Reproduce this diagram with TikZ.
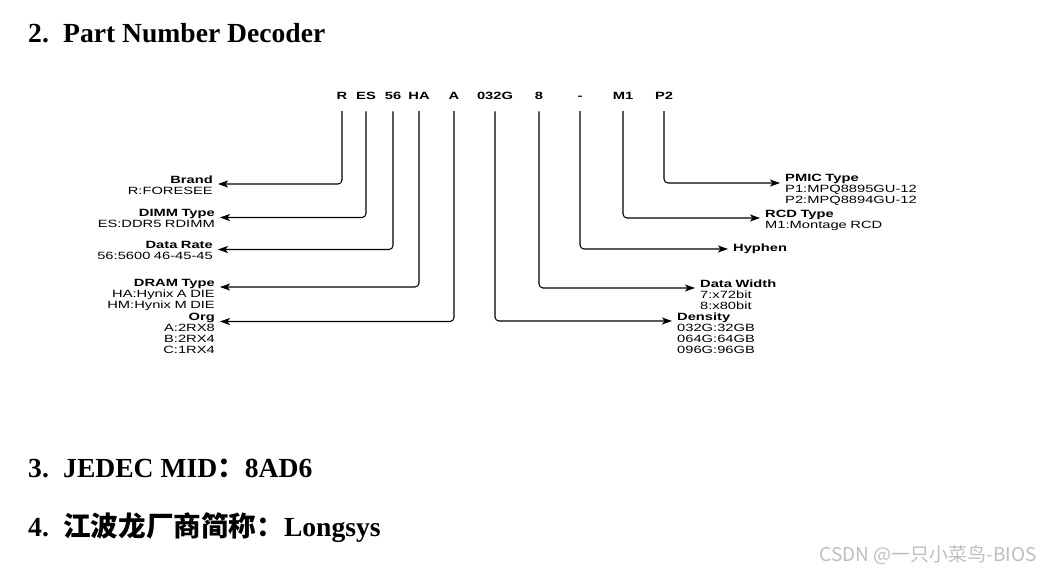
\documentclass[tikz,border=0pt]{standalone}
\usepackage{fontspec}
\setmainfont{Liberation Serif}
\newfontfamily\diagfont[FakeStretch=1.4]{Liberation Sans}
\newfontfamily\cjkfont{Noto Sans CJK SC}
\usetikzlibrary{arrows.meta}
\definecolor{markgray}{RGB}{190,190,190}
\tikzset{
  headtext/.style={font=\bfseries\fontsize{27.6}{30}\selectfont,anchor=base west,inner sep=0pt},
  codetext/.style={font=\diagfont\bfseries\fontsize{10.5}{11}\selectfont,anchor=base,inner sep=0pt},
  leftlabel/.style={font=\diagfont\fontsize{10.5}{11}\selectfont,text width=130pt,align=right,anchor=base east,inner xsep=5pt,inner ysep=0pt},
  rightlabel/.style={font=\diagfont\fontsize{10.5}{11}\selectfont,text width=140pt,align=left,anchor=base west,inner xsep=5pt,inner ysep=0pt},
  decode/.style={-{Stealth[length=10pt,width=7pt,inset=2.5pt]},line width=1.05pt,rounded corners=4pt,shorten <=12pt}
}
\begin{document}
\begin{tikzpicture}[x=1pt,y=-1pt]
  \useasboundingbox (0,0) rectangle (1041,573);

  % headings
  \node[headtext] (num2) at (28,42) {2.};
  \node[headtext] (head2) at (63,42) {Part Number Decoder};
  \node[headtext] (num3) at (28,477) {3.};
  \node[headtext] (head3) at (63,477) {JEDEC MID{\cjkfont ：}8AD6};
  \node[headtext] (num4) at (28,536) {4.};
  \node[headtext] (head4) at (63,536) {{\cjkfont 江波龙厂商简称：}Longsys};

  % part number fields
  \node[codetext] (pnR) at (342,99) {R};
  \node[codetext] (pnES) at (366,99) {ES};
  \node[codetext] (pnRate) at (393,99) {56};
  \node[codetext] (pnHA) at (419,99) {HA};
  \node[codetext] (pnA) at (454,99) {A};
  \node[codetext] (pnDen) at (495,99) {032G};
  \node[codetext] (pnW) at (539,99) {8};
  \node[codetext] (pnDash) at (580,99) {-};
  \node[codetext] (pnM) at (623,99) {M1};
  \node[codetext] (pnP) at (664,99) {P2};

  % left side
  \node[leftlabel] (brand) at (218,183) {\textbf{Brand}\\R:FORESEE};
  \node[leftlabel] (dimm) at (220,216.5) {\textbf{DIMM Type}\\ES:DDR5 RDIMM};
  \node[leftlabel] (rate) at (218,248.5) {\textbf{Data Rate}\\56:5600 46-45-45};
  \node[leftlabel] (dram) at (220,286) {\textbf{DRAM Type}\\HA:Hynix A DIE\\HM:Hynix M DIE};
  \node[leftlabel] (org) at (220,320.5) {\textbf{Org}\\A:2RX8\\B:2RX4\\C:1RX4};

  % right side
  \node[rightlabel] (pmic) at (780,181) {\textbf{PMIC Type}\\P1:MPQ8895GU-12\\P2:MPQ8894GU-12};
  \node[rightlabel] (rcd) at (760,217) {\textbf{RCD Type}\\M1:Montage RCD};
  \node[rightlabel,text width=60pt,anchor=west] (hyphen) at (728,249) {\textbf{Hyphen}};
  \node[rightlabel] (width) at (695,287) {\textbf{Data Width}\\7:x72bit\\8:x80bit};
  \node[rightlabel] (density) at (672,320) {\textbf{Density}\\032G:32GB\\064G:64GB\\096G:96GB};

  \draw[decode] (pnR.south) |- ([yshift=-1pt]brand.base east);
  \draw[decode] (pnES.south) |- ([yshift=-1pt]dimm.base east);
  \draw[decode] (pnRate.south) |- ([yshift=-1pt]rate.base east);
  \draw[decode] (pnHA.south) |- ([yshift=-1pt]dram.base east);
  \draw[decode] (pnA.south) |- ([yshift=-1pt]org.base east);
  \draw[decode] (pnDen.south) |- ([yshift=-1pt]density.base west);
  \draw[decode] (pnW.south) |- ([yshift=-1pt]width.base west);
  \draw[decode] (pnDash.south) |- (hyphen.west);
  \draw[decode] (pnM.south) |- ([yshift=-1pt]rcd.base west);
  \draw[decode] (pnP.south) |- ([yshift=-2pt]pmic.base west);

  % watermark
  \node[anchor=base east,inner sep=0pt,text=markgray,font=\cjkfont\fontsize{19}{22}\selectfont] (mark) at (1037,561) {CSDN @一只小菜鸟-BIOS};
\end{tikzpicture}
\end{document}
